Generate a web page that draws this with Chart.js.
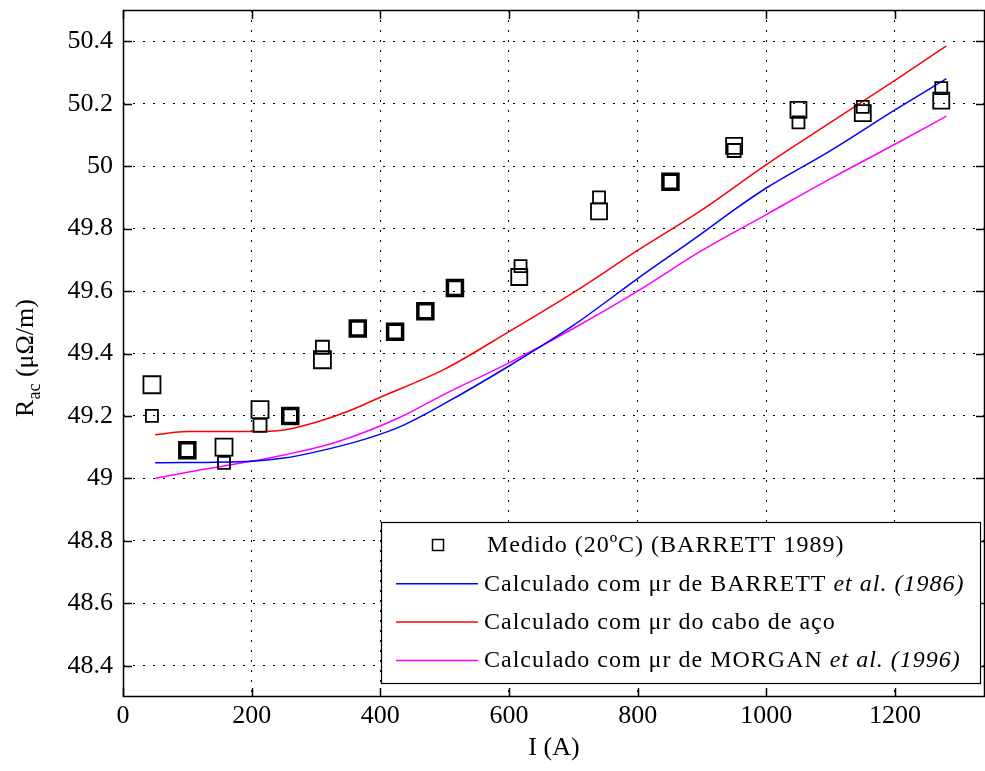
<!DOCTYPE html>
<html>
<head>
<meta charset="utf-8">
<script src="https://cdn.jsdelivr.net/npm/chart.js@4.4.1/dist/chart.umd.min.js"></script>
<style>
html, body { margin: 0; padding: 0; background: #fff; }
</style>
</head>
<body>
<canvas id="chart1" width="985" height="771"></canvas>
<script>
// measured points (BARRETT 1989)
const medidoI = [45, 45, 100, 157, 157, 213, 213, 260, 310, 310, 365, 423, 470, 516, 618, 616, 740, 740, 851, 950, 950, 1050, 1050, 1150, 1150, 1272, 1272];
const medidoR = [49.30, 49.20, 49.09, 49.10, 49.05, 49.22, 49.17, 49.20, 49.42, 49.38, 49.48, 49.47, 49.535, 49.61, 49.68, 49.645, 49.90, 49.855, 49.95, 50.065, 50.05, 50.18, 50.14, 50.19, 50.17, 50.25, 50.21];

// calculated curves
const barrettI = [50, 200, 250, 300, 375, 430, 500, 600, 700, 800, 900, 950, 1000, 1100, 1200, 1280];
const barrettR = [49.05, 49.055, 49.065, 49.085, 49.125, 49.165, 49.24, 49.36, 49.49, 49.64, 49.785, 49.86, 49.93, 50.05, 50.18, 50.28];
const acoI = [50, 100, 200, 250, 300, 350, 400, 500, 600, 700, 800, 900, 1000, 1100, 1200, 1280];
const acoR = [49.14, 49.15, 49.15, 49.155, 49.18, 49.215, 49.26, 49.35, 49.47, 49.595, 49.73, 49.86, 50.005, 50.14, 50.275, 50.385];
const morganI = [50, 100, 200, 250, 330, 430, 500, 600, 700, 800, 900, 1000, 1100, 1200, 1280];
const morganR = [49.0, 49.02, 49.055, 49.075, 49.115, 49.195, 49.27, 49.37, 49.48, 49.6, 49.73, 49.845, 49.96, 50.07, 50.16];

const xTicks = [0, 200, 400, 600, 800, 1000, 1200];
const yTicks = [48.4, 48.6, 48.8, 49, 49.2, 49.4, 49.6, 49.8, 50, 50.2, 50.4];
const yTickLabels = ['48.4', '48.6', '48.8', '49', '49.2', '49.4', '49.6', '49.8', '50', '50.2', '50.4'];

const legendItems = [
    { kind: 'square', parts: [['Medido (20ºC) (BARRETT 1989)', false]] },
    { kind: 'line', color: '#0000ff', parts: [['Calculado com μr de BARRETT ', false], ['et al. (1986)', true]] },
    { kind: 'line', color: '#ff0000', parts: [['Calculado com μr do cabo de aço', false]] },
    { kind: 'line', color: '#ff00ff', parts: [['Calculado com μr de MORGAN ', false], ['et al. (1996)', true]] }
];

// marker look: side length (px) and thick outline
const markerSide = [17, 12, 15, 17, 12, 17, 13, 15, 13, 17, 15, 15, 15, 15, 12, 16, 12, 16, 15, 16, 13, 16, 12, 12, 16, 12, 16];
const markerBold = [0, 0, 1, 0, 0, 0, 0, 1, 0, 0, 1, 1, 1, 1, 0, 0, 0, 0, 1, 0, 0, 0, 0, 0, 0, 0, 0];

const FONT = '"Liberation Serif", "DejaVu Serif", serif';
const pairs = (xs, ys) => xs.map((x, i) => ({ x: x, y: ys[i] }));

const frame = {
    id: 'frame',
    afterDraw(chart) {
        const { ctx, chartArea: a, scales } = chart;
        ctx.save();
        ctx.strokeStyle = '#000';
        ctx.lineWidth = 1.5;
        ctx.strokeRect(a.left + 0.5, a.top + 0.5, a.right - a.left - 1, a.bottom - a.top - 1);
        const tl = 9;
        ctx.beginPath();
        xTicks.forEach(v => {
            const px = Math.round(scales.x.getPixelForValue(v)) + 0.5;
            ctx.moveTo(px, a.top); ctx.lineTo(px, a.top + tl);
            ctx.moveTo(px, a.bottom); ctx.lineTo(px, a.bottom - tl);
        });
        yTicks.forEach(v => {
            const py = Math.round(scales.y.getPixelForValue(v)) + 0.5;
            ctx.moveTo(a.left, py); ctx.lineTo(a.left + tl, py);
            ctx.moveTo(a.right, py); ctx.lineTo(a.right - tl, py);
        });
        ctx.stroke();

        // y axis title with subscript
        ctx.fillStyle = '#000';
        ctx.translate(33, 358);
        ctx.rotate(-Math.PI / 2);
        ctx.textBaseline = 'alphabetic';
        const big = '26px ' + FONT, small = '18px ' + FONT;
        ctx.font = big; const w1 = ctx.measureText('R').width;
        ctx.font = small; const w2 = ctx.measureText('ac').width;
        ctx.font = big; const w3 = ctx.measureText(' (μΩ/m)').width;
        let x = -(w1 + w2 + w3) / 2;
        ctx.font = big; ctx.fillText('R', x, 0); x += w1;
        ctx.font = small; ctx.fillText('ac', x, 7); x += w2;
        ctx.font = big; ctx.fillText(' (μΩ/m)', x, 0);
        ctx.restore();

        // legend box
        const bx0 = 381.5, by0 = 522.5, bx1 = 980.5, by1 = 683.5;
        ctx.save();
        ctx.fillStyle = '#fff';
        ctx.fillRect(bx0, by0, bx1 - bx0, by1 - by0);
        ctx.strokeStyle = '#000';
        ctx.lineWidth = 1.2;
        ctx.strokeRect(bx0, by0, bx1 - bx0, by1 - by0);
        ctx.textBaseline = 'middle';
        ctx.fillStyle = '#000';
        ctx.letterSpacing = '1px';
        legendItems.forEach((it, i) => {
            const cy = 545 + i * 38.3;
            if (it.kind === 'square') {
                ctx.lineWidth = 1.5;
                ctx.strokeRect(432.5, cy - 5.5, 11, 11);
            } else {
                ctx.strokeStyle = it.color;
                ctx.lineWidth = 1.5;
                ctx.beginPath(); ctx.moveTo(396, cy + 0.5); ctx.lineTo(478, cy + 0.5); ctx.stroke();
                ctx.strokeStyle = '#000';
            }
            let tx = it.kind === 'square' ? 487 : 484;
            it.parts.forEach(([t, ital]) => {
                ctx.font = (ital ? 'italic ' : '') + '24px ' + FONT;
                ctx.fillText(t, tx, cy + 1);
                tx += ctx.measureText(t).width;
            });
        });
        ctx.restore();
    }
};

const lineStyle = color => ({
    type: 'line',
    borderColor: color,
    backgroundColor: color,
    borderWidth: 1.5,
    pointRadius: 0,
    fill: false,
    cubicInterpolationMode: 'monotone'
});

new Chart(document.getElementById('chart1'), {
    type: 'scatter',
    data: {
        datasets: [
            {
                label: 'Medido (20ºC) (BARRETT 1989)',
                data: pairs(medidoI, medidoR),
                pointStyle: 'rect',
                pointRadius: c => markerSide[c.dataIndex] / 1.414,
                pointHoverRadius: c => markerSide[c.dataIndex] / 1.414,
                pointBorderWidth: c => markerBold[c.dataIndex] ? 3.5 : 1.8,
                borderColor: '#000',
                backgroundColor: 'rgba(0,0,0,0)',
                order: 0
            },
            Object.assign({ label: 'BARRETT', data: pairs(barrettI, barrettR), order: 1 }, lineStyle('#0000ff')),
            Object.assign({ label: 'aço', data: pairs(acoI, acoR), order: 2 }, lineStyle('#ff0000')),
            Object.assign({ label: 'MORGAN', data: pairs(morganI, morganR), order: 3 }, lineStyle('#ff00ff'))
        ]
    },
    options: {
        responsive: false,
        animation: false,
        devicePixelRatio: 1,
        layout: { autoPadding: false, padding: { top: 10, right: 0, left: 0, bottom: 0 } },
        plugins: { legend: { display: false }, tooltip: { enabled: false } },
        scales: {
            x: {
                type: 'linear',
                min: 0,
                max: 1340,
                afterFit: s => { s.height = 74; s.paddingLeft = 0; s.paddingRight = 0; },
                afterBuildTicks: s => { s.ticks = xTicks.map(v => ({ value: v })); },
                ticks: { color: '#000', font: { family: FONT, size: 26 }, padding: 4, maxRotation: 0, callback: v => String(v) },
                grid: { color: '#000', lineWidth: 1, drawTicks: false },
                border: { display: false, dash: [2, 8] },
                title: { display: true, text: 'I (A)', color: '#000', font: { family: FONT, size: 26 }, padding: { top: 0, bottom: 7 } }
            },
            y: {
                type: 'linear',
                min: 48.3,
                max: 50.5,
                afterFit: s => { s.width = 123; s.paddingTop = 0; s.paddingBottom = 0; },
                afterBuildTicks: s => { s.ticks = yTicks.map(v => ({ value: v })); },
                ticks: { color: '#000', font: { family: FONT, size: 26 }, padding: 10, callback: (v, i) => yTickLabels[i] },
                grid: { color: '#000', lineWidth: 1, drawTicks: false },
                border: { display: false, dash: [2, 8] }
            }
        }
    },
    plugins: [frame]
});
</script>
</body>
</html>
